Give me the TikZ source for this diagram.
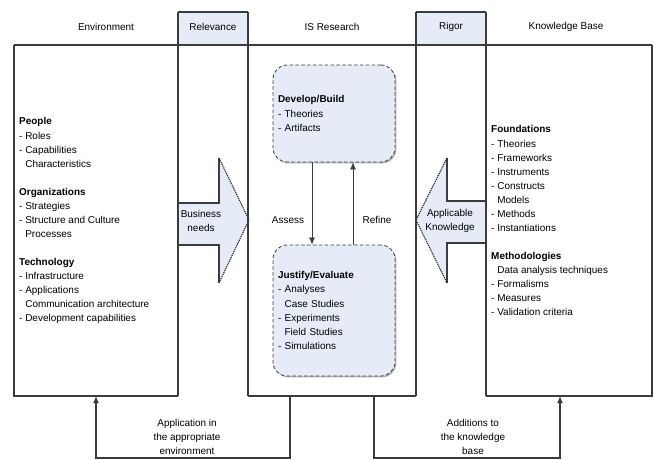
\documentclass[tikz,border=0pt]{standalone}
\usepackage{fontspec}
\setmainfont{Liberation Sans}
\usetikzlibrary{arrows.meta,shadows}
\definecolor{paleblue}{HTML}{E6ECF7}
\definecolor{framegray}{HTML}{3C3C3C}
\tikzset{
  frame/.style={draw=framegray,line width=0.9pt},
  txt/.style={font=\fontsize{8.5}{12}\selectfont,inner sep=0pt},
  activity/.style={draw=framegray,densely dashed,line width=0.7pt,fill=paleblue,
    rounded corners=12pt,minimum width=3.66cm,text width=3.36cm,inner xsep=0.15cm,
    align=left,font=\fontsize{8.5}{12}\selectfont,
    drop shadow={shadow xshift=1.2pt,shadow yshift=-1.2pt,opacity=0.6}},
  flow/.style={frame,-{Latex[length=6pt,width=5pt]}},
  headarrow/.style={draw=black!85,dash pattern=on 1pt off 0.8pt,line width=1pt},
}
\newcommand{\indt}{\phantom{- }}
\begin{document}
\begin{tikzpicture}[x=0.03cm,y=-0.03cm]
  \useasboundingbox (0,0) rectangle (654,460);
  % header boxes
  \fill[paleblue] (178,12) rectangle (248,45);
  \fill[paleblue] (416,12) rectangle (486,45);
  \draw[frame] (178,12) -- (248,12);
  \draw[frame] (416,12) -- (486,12);
  % big arrows
  \fill[paleblue] (178,203) -- (219,203) -- (219,158) -- (249,220) -- (219,283) -- (219,245) -- (178,245) -- cycle;
  \draw[frame] (178,203) -- (219,203) -- (219,158);
  \draw[frame] (178,245) -- (219,245) -- (219,283);
  \draw[headarrow] (219,158) -- (249,220) -- (219,283);
  \fill[paleblue] (486,201) -- (447,201) -- (447,158) -- (416,220) -- (447,283) -- (447,243) -- (486,243) -- cycle;
  \draw[frame] (486,201) -- (447,201) -- (447,158);
  \draw[frame] (486,243) -- (447,243) -- (447,283);
  \draw[headarrow] (447,158) -- (416,220) -- (447,283);
  % columns
  \draw[frame] (14,45) -- (652,45);
  \foreach \x in {178,248,416,486}
    \draw[frame] (\x,12) -- (\x,396);
  \draw[frame] (14,45) -- (14,396) -- (178,396);
  \draw[frame] (248,396) -- (416,396);
  \draw[frame] (486,396) -- (652,396) -- (652,45);
  % headers
  \node[txt] (envhead) at (106,27) {Environment};
  \node[txt] (relhead) at (213,27) {Relevance};
  \node[txt] (ishead) at (332,27) {IS Research};
  \node[txt] (righead) at (451,27) {Rigor};
  \node[txt] (kbhead) at (566,27) {Knowledge Base};
  % environment
  \node[txt,anchor=north west,align=left] (envtext) at (19,117.5) {%
    \textbf{People}\\- Roles\\- Capabilities\\\indt Characteristics\\[12pt]
    \textbf{Organizations}\\- Strategies\\- Structure and Culture\\\indt Processes\\[12pt]
    \textbf{Technology}\\- Infrastructure\\- Applications\\\indt Communication architecture\\- Development capabilities};
  % knowledge base
  \node[txt,anchor=north west,align=left] (kbtext) at (491,125.5) {%
    \textbf{Foundations}\\- Theories\\- Frameworks\\- Instruments\\- Constructs\\\indt Models\\- Methods\\- Instantiations\\[12pt]
    \textbf{Methodologies}\\\indt Data analysis techniques\\- Formalisms\\- Measures\\- Validation criteria};
  % IS research
  \node[activity,minimum height=2.91cm] (develop) at (334,113.5)
    {\textbf{Develop/Build}\\- Theories\\- Artifacts};
  \node[activity,minimum height=3.93cm] (justify) at (334,310.5)
    {\textbf{Justify/Evaluate}\\- Analyses\\\indt Case Studies\\- Experiments\\\indt Field Studies\\- Simulations};
  \draw[flow,line width=0.5pt] ([xshift=-0.66cm]develop.south) -- ([xshift=-0.66cm]justify.north);
  \draw[flow,line width=0.5pt] ([xshift=0.57cm]justify.north) -- ([xshift=0.57cm]develop.south);
  \node[txt] (assess) at (288,220) {Assess};
  \node[txt] (refine) at (377,220) {Refine};
  % arrow labels
  \node[txt,align=center] (needs) at (201,221) {Business\\needs};
  \node[txt,align=center] (knowledge) at (450,221) {Applicable\\Knowledge};
  % feedback
  \coordinate (isleft) at (290,396);
  \coordinate (envfoot) at (96,396);
  \coordinate (isright) at (374,396);
  \coordinate (kbfoot) at (560,396);
  \draw[flow] (isleft) -- ++(0,62) -| (envfoot);
  \draw[flow] (isright) -- ++(0,62) -| (kbfoot);
  \node[txt,align=center] (apply) at (187,437) {Application in\\the appropriate\\environment};
  \node[txt,align=center] (additions) at (473,437) {Additions to\\the knowledge\\base};
\end{tikzpicture}
\end{document}
